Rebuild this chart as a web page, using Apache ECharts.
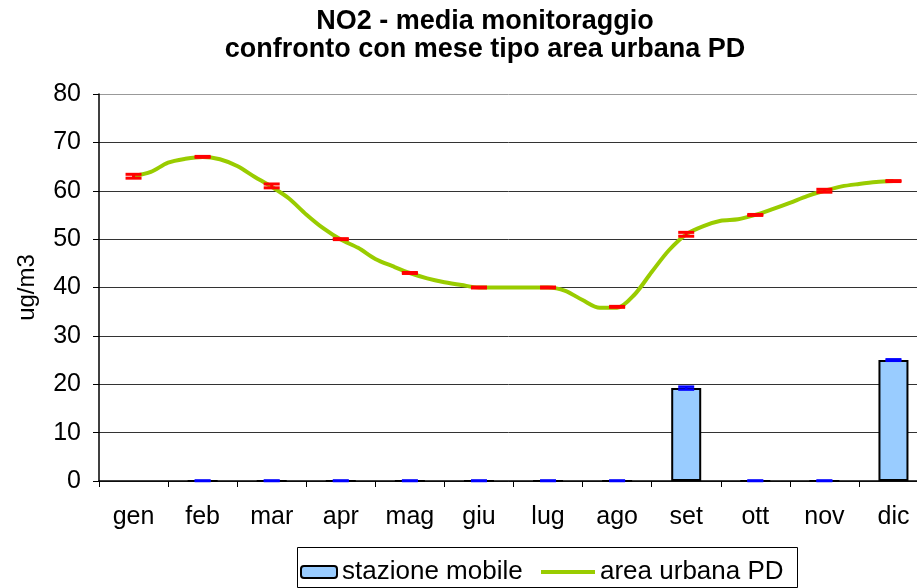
<!DOCTYPE html>
<html>
<head>
<meta charset="utf-8">
<script src="https://cdn.jsdelivr.net/npm/echarts@6/dist/echarts.min.js"></script>
<style>
  html, body { margin: 0; padding: 0; background: #fff; }
  #chart { width: 917px; height: 588px; }
</style>
</head>
<body>
<div id="chart"></div>
<script>
// months on the category axis
var months = ['gen', 'feb', 'mar', 'apr', 'mag', 'giu', 'lug', 'ago', 'set', 'ott', 'nov', 'dic'];

// stazione mobile (bars) and its error
var mobileValues = ['-', 0, 0, 0, 0, 0, 0, 0, 19.2, 0, 0, 25.0];
var mobileErr = [null, 0.1, 0.1, 0.1, 0.1, 0.1, 0.1, 0.1, 0.3, 0.1, 0.1, 0.15];

// area urbana PD monthly means (red error markers) and their error
var urbanMeans = [63, 67, 61, 50, 43, 40, 40, 36, 51, 55, 60, 62];
var urbanErr = [0.4, 0.1, 0.4, 0.1, 0.1, 0.1, 0.1, 0.1, 0.4, 0.1, 0.3, 0.1];

// area urbana PD curve, 4 points per month from gen to dic
var urbanCurve = [
  63.0, 63.9, 65.8, 66.6,
  67.0, 66.5, 65.1, 62.9,
  60.8, 58.4, 55.1, 52.2,
  49.9, 48.2, 45.9, 44.4,
  43.0, 41.9, 41.1, 40.5,
  40.0, 40.0, 40.0, 40.0,
  40.0, 39.3, 37.4, 35.8,
  35.8, 38.5, 43.2, 47.7,
  51.0, 52.7, 53.8, 54.1,
  55.0, 56.2, 57.5, 58.9,
  60.0, 60.9, 61.4, 61.8,
  62.0
];

var yTicks = [0, 10, 20, 30, 40, 50, 60, 70, 80];

var FONT = 'Liberation Sans, Arial, sans-serif';

var curveData = urbanCurve.map(function (v, k) { return [0.5 + k / 4, v]; });

var urbanErrData = urbanMeans.map(function (v, i) { return [i, v - urbanErr[i], v + urbanErr[i]]; });
var mobileErrData = [];
for (var i = 0; i < months.length; i++) {
  if (mobileValues[i] === '-') continue;
  mobileErrData.push([i, mobileValues[i] - mobileErr[i], mobileValues[i] + mobileErr[i]]);
}

function errorBars(color, half, width) {
  return function (params, api) {
    var x = api.value(0);
    var lo = api.coord([x, Math.max(0, api.value(1))]);
    var hi = api.coord([x, api.value(2)]);
    var st = { stroke: color, lineWidth: width };
    return {
      type: 'group',
      children: [
        { type: 'line', shape: { x1: lo[0], y1: lo[1], x2: hi[0], y2: hi[1] }, style: st },
        { type: 'line', shape: { x1: lo[0] - half, y1: lo[1], x2: lo[0] + half, y2: lo[1] }, style: st },
        { type: 'line', shape: { x1: hi[0] - half, y1: hi[1], x2: hi[0] + half, y2: hi[1] }, style: st }
      ]
    };
  };
}

var chart = echarts.init(document.getElementById('chart'));

chart.setOption({
  animation: false,
  backgroundColor: '#fff',
  textStyle: { fontFamily: FONT },
  title: {
    text: 'NO2 - media monitoraggio\nconfronto con mese tipo area urbana PD',
    left: 480,
    top: 3,
    textAlign: 'center',
    textStyle: { fontFamily: FONT, fontSize: 27, fontWeight: 'bold', color: '#000', lineHeight: 28 }
  },
  grid: { left: 99, top: 94, width: 829, height: 387, outerBoundsMode: 'none', containLabel: false },
  graphic: [{
    type: 'rect',
    left: 297,
    top: 547,
    z: 0,
    shape: { width: 500, height: 40 },
    style: { fill: '#fff', stroke: '#000', lineWidth: 1 }
  }],
  legend: [{
    data: ['stazione mobile'],
    left: 295,
    top: 554,
    itemWidth: 36,
    itemHeight: 12,
    itemGap: 4,
    textStyle: { fontFamily: FONT, fontSize: 26, color: '#000' }
  }, {
    data: [{ name: 'area urbana PD', icon: 'rect' }],
    left: 536,
    top: 554,
    itemWidth: 54,
    itemHeight: 4,
    itemGap: 4,
    textStyle: { fontFamily: FONT, fontSize: 26, color: '#000' }
  }],
  xAxis: [{
    type: 'category',
    data: months,
    axisLine: { lineStyle: { color: '#000', width: 1.5 } },
    axisTick: { show: true, length: 6, lineStyle: { color: '#000' } },
    axisLabel: { color: '#000', fontSize: 25, margin: 24, fontFamily: FONT }
  }, {
    type: 'value',
    min: 0,
    max: 12,
    show: false
  }],
  yAxis: {
    type: 'value',
    min: yTicks[0],
    max: yTicks[yTicks.length - 1],
    interval: 10,
    name: 'ug/m3',
    nameLocation: 'middle',
    nameGap: 60,
    nameTextStyle: { color: '#000', fontSize: 24, fontFamily: FONT },
    axisLine: { show: true, lineStyle: { color: '#000', width: 1.5 } },
    axisTick: { show: true, length: 6, lineStyle: { color: '#000' } },
    axisLabel: { color: '#000', fontSize: 25, margin: 18, fontFamily: FONT },
    splitLine: {
      lineStyle: { color: ['#333', '#333', '#333', '#333', '#333', '#333', '#333', '#333', '#999'], width: 1 }
    }
  },
  series: [{
    name: 'stazione mobile',
    type: 'bar',
    data: mobileValues,
    barWidth: 30,
    itemStyle: { color: '#99CCFF', borderColor: '#000', borderWidth: 2 },
    z: 2
  }, {
    name: 'mobile err',
    type: 'custom',
    data: mobileErrData,
    renderItem: errorBars('#0000FF', 8, 2.5),
    z: 4,
    silent: true
  }, {
    name: 'area urbana PD',
    type: 'line',
    xAxisIndex: 1,
    data: curveData,
    symbol: 'none',
    smooth: 0.3,
    lineStyle: { color: '#99CC00', width: 4 },
    itemStyle: { color: '#99CC00' },
    z: 3
  }, {
    name: 'urban err',
    type: 'custom',
    data: urbanErrData,
    renderItem: errorBars('#FF0000', 8, 3),
    z: 5,
    silent: true
  }]
});
</script>
</body>
</html>
